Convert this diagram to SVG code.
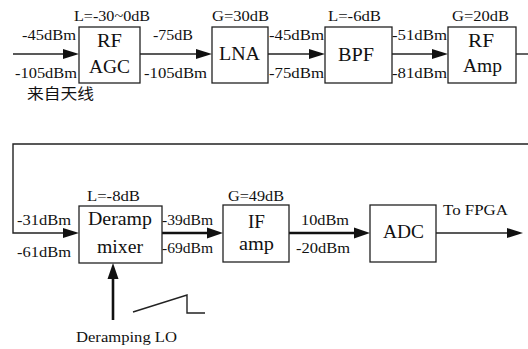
<svg xmlns="http://www.w3.org/2000/svg" width="528" height="349" viewBox="0 0 528 349">
<style>
.l{font-size:14px;fill:#111;}
.b{font-size:18px;fill:#111;}
.box{fill:#fff;stroke:#222;stroke-width:1.3;}
.w{fill:none;stroke:#222;stroke-width:1.4;}
.t{fill:none;stroke:#111;stroke-width:2.6;}
.ah{fill:#111;stroke:none;}
</style>
<rect width="528" height="349" fill="#fff"/>
<g id="connectors">
<path class="w" d="M13,54 H66"/><polygon class="ah" points="63,49 79,54 63,59"/>
<path class="w" d="M140,54 H199"/><polygon class="ah" points="196,49 212,54 196,59"/>
<path class="w" d="M268,54 H312"/><polygon class="ah" points="309,49 325,54 309,59"/>
<path class="w" d="M392,54 H435"/><polygon class="ah" points="432,49 448,54 432,59"/>
<path class="w" d="M516,54 H528"/>
<path class="w" d="M528,144 H13 V233 H66"/><polygon class="ah" points="63,228 79,233 63,238"/>
<path class="t" d="M145,233 H210"/><polygon class="ah" points="207,227.5 223,233 207,238.5"/>
<path class="t" d="M289,233 H357"/><polygon class="ah" points="354,227.5 370,233 354,238.5"/>
<path class="w" d="M436,233 H510"/><polygon class="ah" points="507,228 523,233 507,238"/>
<path class="t" d="M113,320 V276"/><polygon class="ah" points="107.5,279 113,263 118.5,279"/>
<polyline class="w" points="133,312 187,295 187,313 205,313"/>
</g>
<g id="rfagc">
<rect class="box" x="79" y="27" width="61" height="56"/>
<text class="b" font-family="Liberation Serif" x="97" y="47" textLength="25" lengthAdjust="spacingAndGlyphs">RF</text>
<text class="b" font-family="Liberation Serif" x="89" y="73" textLength="41" lengthAdjust="spacingAndGlyphs">AGC</text>
<text class="l" font-family="Liberation Serif" x="74" y="21" textLength="76" lengthAdjust="spacingAndGlyphs">L=-30~0dB</text>
</g>
<g id="lna">
<rect class="box" x="212" y="27" width="56" height="56"/>
<text class="b" font-family="Liberation Serif" x="219" y="60" textLength="41" lengthAdjust="spacingAndGlyphs">LNA</text>
<text class="l" font-family="Liberation Serif" x="212" y="21" textLength="57" lengthAdjust="spacingAndGlyphs">G=30dB</text>
</g>
<g id="bpf">
<rect class="box" x="325" y="27" width="67" height="56"/>
<text class="b" font-family="Liberation Serif" x="338" y="61" textLength="36" lengthAdjust="spacingAndGlyphs">BPF</text>
<text class="l" font-family="Liberation Serif" x="328" y="21" textLength="53" lengthAdjust="spacingAndGlyphs">L=-6dB</text>
</g>
<g id="rfamp">
<rect class="box" x="448" y="27" width="68" height="56"/>
<text class="b" font-family="Liberation Serif" x="468" y="47" textLength="26" lengthAdjust="spacingAndGlyphs">RF</text>
<text class="b" font-family="Liberation Serif" x="463" y="72" textLength="39" lengthAdjust="spacingAndGlyphs">Amp</text>
<text class="l" font-family="Liberation Serif" x="452" y="21" textLength="57" lengthAdjust="spacingAndGlyphs">G=20dB</text>
</g>
<g id="mixer">
<rect class="box" x="79" y="206" width="83" height="57"/>
<text class="b" font-family="Liberation Serif" x="88" y="225" textLength="64" lengthAdjust="spacingAndGlyphs">Deramp</text>
<text class="b" font-family="Liberation Serif" x="97" y="253" textLength="46" lengthAdjust="spacingAndGlyphs">mixer</text>
<text class="l" font-family="Liberation Serif" x="87" y="201" textLength="53" lengthAdjust="spacingAndGlyphs">L=-8dB</text>
</g>
<g id="ifamp">
<rect class="box" x="223" y="205" width="66" height="57"/>
<text class="b" font-family="Liberation Serif" x="248" y="228" textLength="17" lengthAdjust="spacingAndGlyphs">IF</text>
<text class="b" font-family="Liberation Serif" x="239" y="250" textLength="35" lengthAdjust="spacingAndGlyphs">amp</text>
<text class="l" font-family="Liberation Serif" x="228" y="201" textLength="56" lengthAdjust="spacingAndGlyphs">G=49dB</text>
</g>
<g id="adc">
<rect class="box" x="370" y="205" width="66" height="57"/>
<text class="b" font-family="Liberation Serif" x="383" y="238" textLength="41" lengthAdjust="spacingAndGlyphs">ADC</text>
</g>
<g id="labels">
<text class="l" font-family="Liberation Serif" x="22" y="40" textLength="54" lengthAdjust="spacingAndGlyphs">-45dBm</text>
<text class="l" font-family="Liberation Serif" x="15" y="78" textLength="62" lengthAdjust="spacingAndGlyphs">-105dBm</text>
<text class="l" font-family="Liberation Serif" x="153" y="40" textLength="40" lengthAdjust="spacingAndGlyphs">-75dB</text>
<text class="l" font-family="Liberation Serif" x="144" y="78" textLength="63" lengthAdjust="spacingAndGlyphs">-105dBm</text>
<text font-family="Liberation Serif, Noto Sans CJK SC, serif" font-size="15" fill="#111" x="27" y="99" textLength="67" lengthAdjust="spacingAndGlyphs">来自天线</text>
<text class="l" font-family="Liberation Serif" x="269" y="40" textLength="55" lengthAdjust="spacingAndGlyphs">-45dBm</text>
<text class="l" font-family="Liberation Serif" x="269" y="78" textLength="55" lengthAdjust="spacingAndGlyphs">-75dBm</text>
<text class="l" font-family="Liberation Serif" x="392" y="40" textLength="55" lengthAdjust="spacingAndGlyphs">-51dBm</text>
<text class="l" font-family="Liberation Serif" x="392" y="78" textLength="55" lengthAdjust="spacingAndGlyphs">-81dBm</text>
<text class="l" font-family="Liberation Serif" x="17" y="225" textLength="54" lengthAdjust="spacingAndGlyphs">-31dBm</text>
<text class="l" font-family="Liberation Serif" x="17" y="257" textLength="54" lengthAdjust="spacingAndGlyphs">-61dBm</text>
<text class="l" font-family="Liberation Serif" x="162" y="225" textLength="51" lengthAdjust="spacingAndGlyphs">-39dBm</text>
<text class="l" font-family="Liberation Serif" x="162" y="253" textLength="51" lengthAdjust="spacingAndGlyphs">-69dBm</text>
<text class="l" font-family="Liberation Serif" x="301" y="225" textLength="48" lengthAdjust="spacingAndGlyphs">10dBm</text>
<text class="l" font-family="Liberation Serif" x="296" y="253" textLength="54" lengthAdjust="spacingAndGlyphs">-20dBm</text>
<text class="l" font-family="Liberation Serif" x="443" y="215" textLength="65" lengthAdjust="spacingAndGlyphs">To FPGA</text>
<text class="l" font-family="Liberation Serif" x="76" y="342" textLength="101" lengthAdjust="spacingAndGlyphs">Deramping LO</text>
</g>
</svg>
